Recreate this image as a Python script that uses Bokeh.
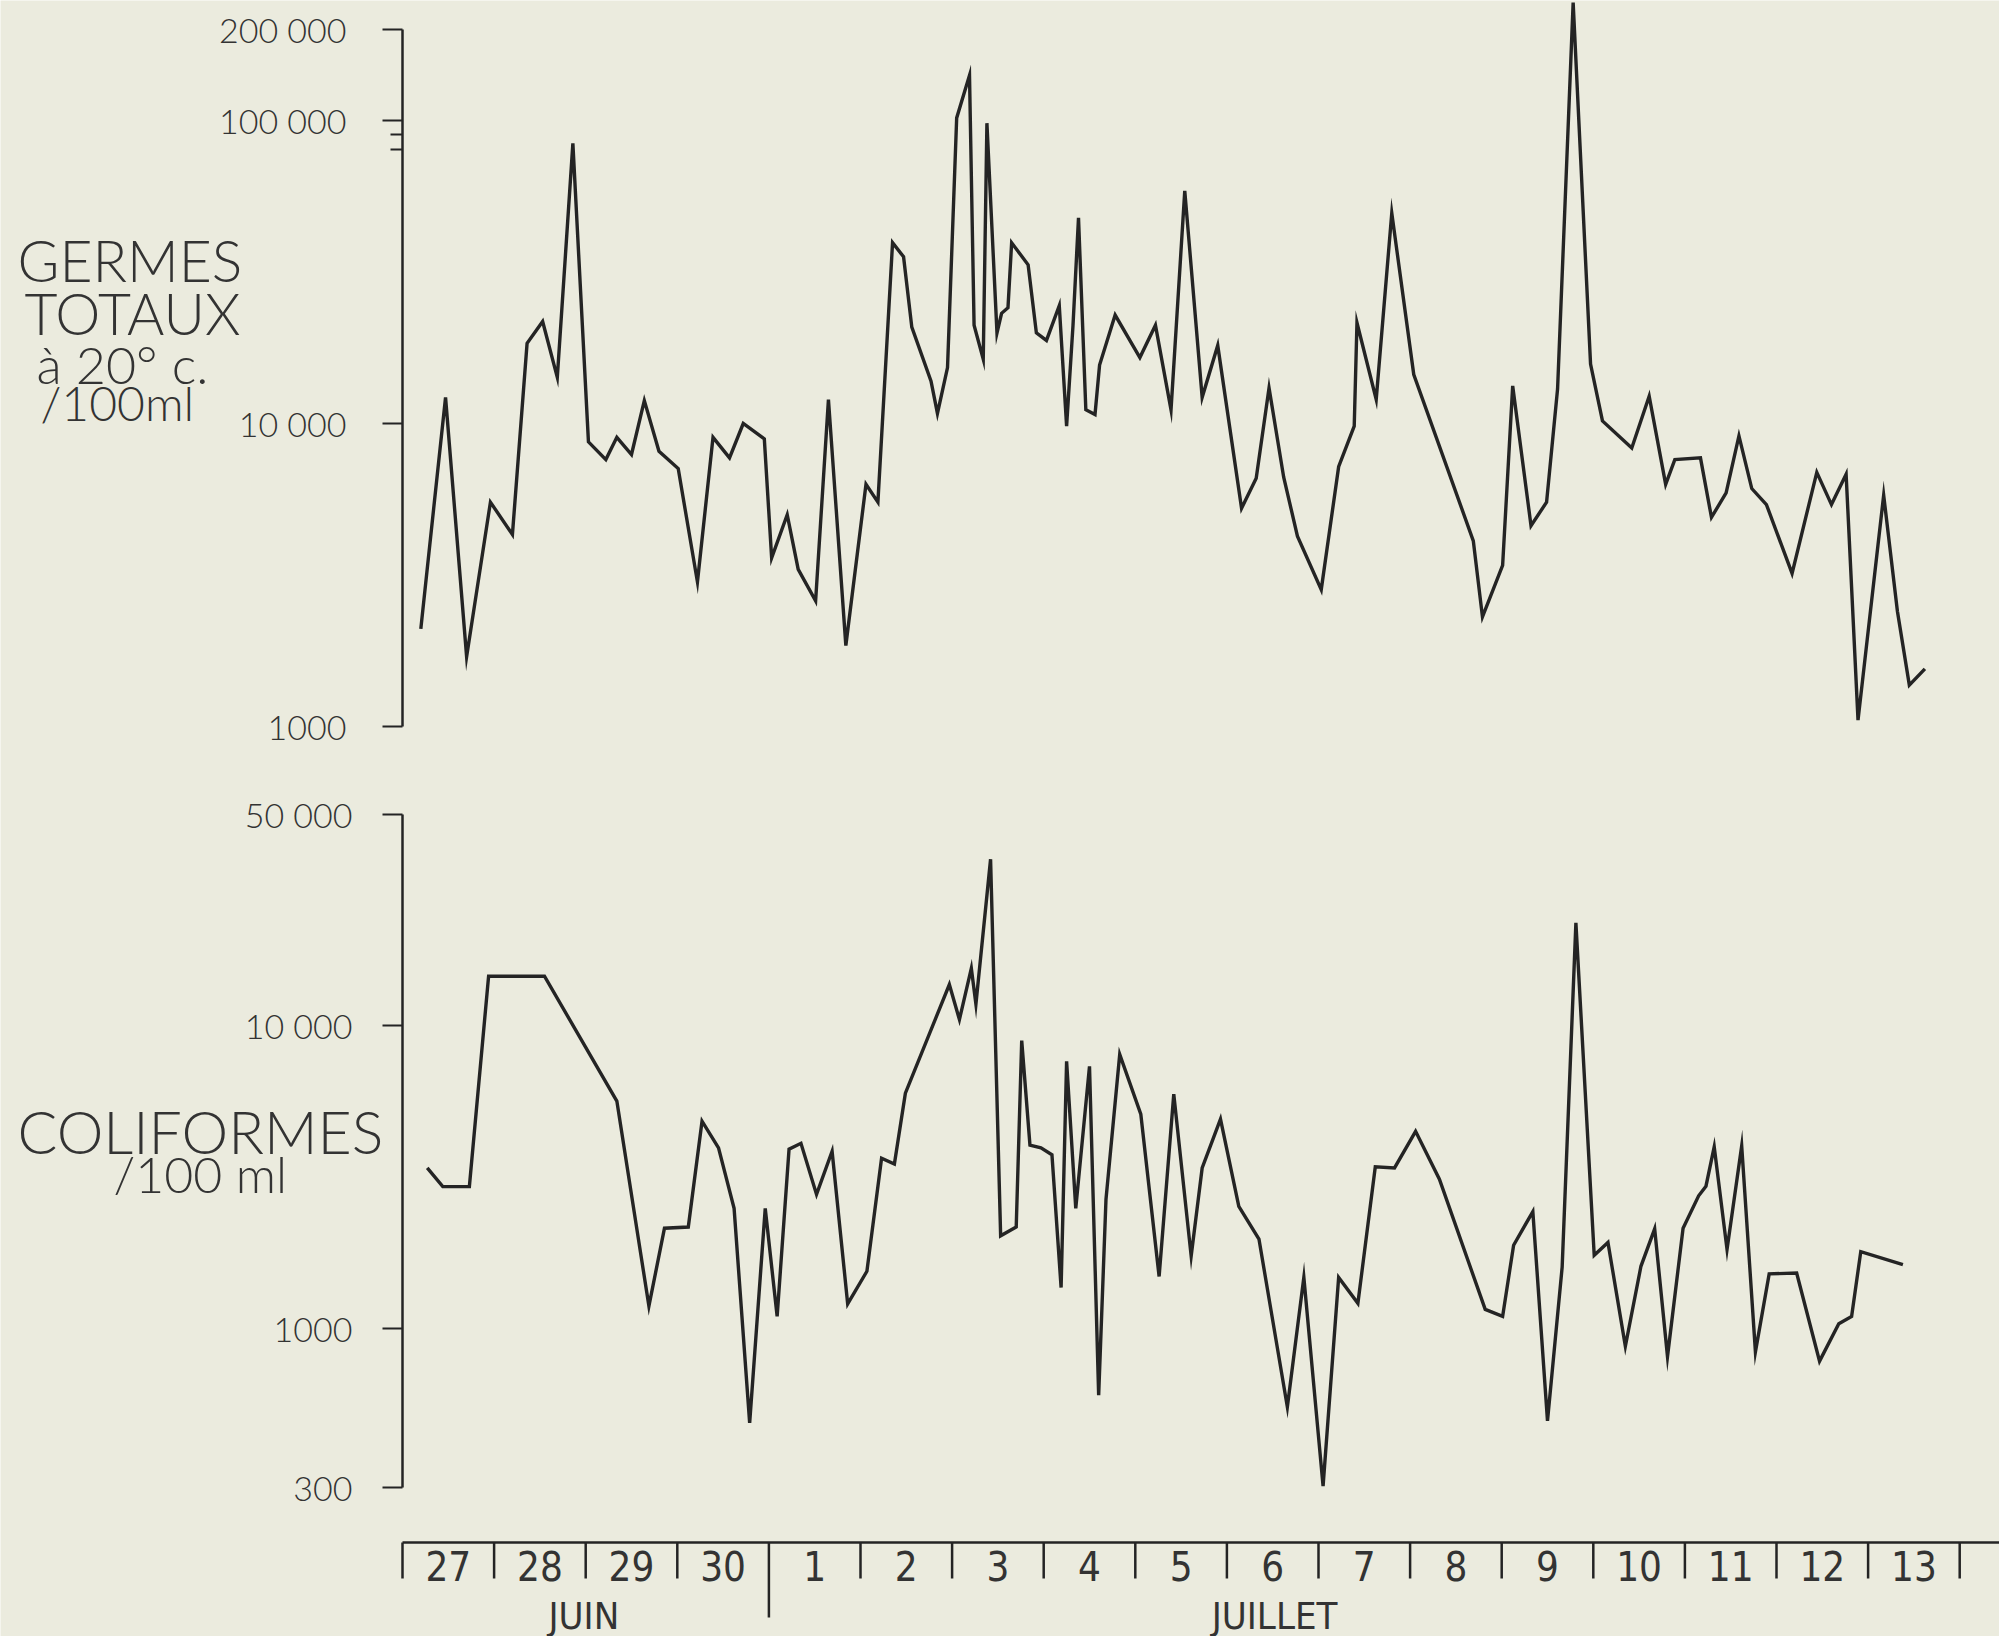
from bokeh.plotting import figure
from bokeh.models import Range1d, FixedTicker, Label, LogAxis, LogScale, LinearScale
from bokeh.embed import file_html
from bokeh.resources import INLINE
from bokeh.core.properties import value

# ---------------- data ----------------
# time: days counted from 27 June, 0 h ; values per 100 ml
germes_t = [0.20, 0.47, 0.70, 0.96, 1.20, 1.36, 1.53, 1.69, 1.86, 2.03, 2.22, 2.34, 2.50, 2.64,
            2.80, 3.01, 3.22, 3.39, 3.57, 3.72, 3.95, 4.03, 4.20, 4.32, 4.51, 4.65, 4.84, 5.06,
            5.19, 5.35, 5.47, 5.56, 5.77, 5.84, 5.95, 6.05, 6.19, 6.24, 6.34, 6.38, 6.49, 6.54,
            6.61, 6.65, 6.83, 6.92, 7.03, 7.17, 7.25, 7.32, 7.38, 7.46, 7.56, 7.61, 7.78, 8.05,
            8.22, 8.39, 8.54, 8.73, 8.90, 9.16, 9.32, 9.46, 9.62, 9.77, 10.03, 10.22, 10.39, 10.42,
            10.63, 10.80, 11.04, 11.69, 11.79, 12.01, 12.12, 12.32, 12.49, 12.61, 12.78, 12.97,
            13.10, 13.42, 13.61, 13.79, 13.89, 14.17, 14.29, 14.45, 14.59, 14.73, 14.89, 15.17,
            15.44, 15.60, 15.76, 15.89, 16.17, 16.32, 16.45, 16.62]
germes_v = [2100, 12200, 1700, 5500, 4300, 18400, 21700, 14200, 84000, 8700, 7600, 9000, 7900, 11900,
            8100, 7100, 3000, 9000, 7700, 10000, 8900, 3600, 5000, 3300, 2600, 12000, 1850, 6300,
            5500, 39500, 35500, 20800, 13800, 10800, 15300, 102000, 141000, 21100, 16300, 98000, 19900, 23100,
            24100, 39500, 33400, 19900, 18800, 24500, 9800, 21100, 47700, 11100, 10700, 15600, 22800, 16500,
            21100, 11100, 58600, 12200, 18100, 5250, 6600, 13100, 6650, 4250, 2830, 7200, 9800, 21500,
            12000, 49500, 14500, 4100, 2300, 3400, 13300, 4600, 5500, 13000, 245000, 15700,
            10200, 8300, 12300, 6300, 7600, 7700, 4900, 5900, 9100, 6100, 5400, 3200,
            6900, 5400, 6800, 1050, 5800, 2400, 1370, 1550]

coli_t = [0.27, 0.44, 0.73, 0.94, 1.55, 2.34, 2.69, 2.86, 3.12, 3.27, 3.45, 3.62, 3.79, 3.96,
          4.09, 4.22, 4.35, 4.52, 4.69, 4.86, 5.07, 5.23, 5.37, 5.49, 5.97, 6.08, 6.21, 6.26,
          6.42, 6.53, 6.70, 6.76, 6.85, 6.97, 7.09, 7.19, 7.25, 7.35, 7.50, 7.60, 7.68, 7.83,
          8.06, 8.26, 8.42, 8.61, 8.73, 8.93, 9.13, 9.35, 9.66, 9.84, 10.05, 10.22, 10.43, 10.62,
          10.83, 11.06, 11.32, 11.82, 12.01, 12.13, 12.34, 12.50, 12.66, 12.81, 13.01, 13.16,
          13.35, 13.52, 13.67, 13.81, 13.98, 14.15, 14.23, 14.32, 14.46, 14.62, 14.77, 14.92,
          15.22, 15.47, 15.68, 15.82, 15.92, 16.38]
coli_v = [3400, 2950, 2950, 14600, 14600, 5650, 1190, 2150, 2170, 4850, 3960, 2500, 490, 2500,
          1100, 3920, 4100, 2780, 3860, 1210, 1550, 3660, 3500, 6000, 13700, 10500, 15500, 11800,
          35500, 2030, 2170, 8950, 4040, 3960, 3760, 1370, 7640, 2500, 7360, 604, 2680, 8060,
          5120, 1490, 5960, 1740, 3400, 4930, 2540, 1980, 553, 1480, 303, 1480, 1215, 3430,
          3400, 4490, 3120, 1160, 1100, 1890, 2440, 497, 1600, 21900, 1750, 1930,
          877, 1610, 2140, 811, 2150, 2750, 2960, 3990, 1830, 4020, 840, 1520,
          1530, 783, 1040, 1100, 1800, 1630]

day_labels = ["27", "28", "29", "30", "1", "2", "3", "4", "5", "6", "7", "8", "9",
              "10", "11", "12", "13"]
month_labels = ["JUIN", "JUILLET"]

germes_ticks = [1000, 10000, 100000, 200000]
germes_tick_labels = ["1000", "10 000", "100 000", "200 000"]
germes_minor_ticks = [80000, 90000]
coli_ticks = [300, 1000, 10000, 50000]
coli_tick_labels = ["300", "1000", "10 000", "50 000"]

# ---------------- style / layout ----------------
PAPER = "#EBEBDE"
INK = "#242424"
TXT = "#333333"
FONT = "Lato Light, Lato, sans-serif"
NARROW = "Liberation Sans Narrow, DejaVu Sans Condensed, Roboto Condensed, sans-serif"
W, H = 1999, 1636
PX_PER_DAY = 91.6
AXIS_PX = 402
X_START = -AXIS_PX / PX_PER_DAY
X_END = (W - AXIS_PX) / PX_PER_DAY

# one frame covering the whole page; each panel has its own log range
p = figure(width=W, height=H, y_axis_type="log", output_backend="svg", toolbar_location=None,
           x_range=Range1d(X_START, X_END), y_range=Range1d(0.9924, 248900),
           x_axis_location=None, y_axis_location=None,
           min_border_left=0, min_border_right=0, min_border_top=0, min_border_bottom=0)
p.extra_y_ranges = {"coli": Range1d(96.6, 2.424e7), "strip": Range1d(H, 0)}
p.extra_y_scales = {"coli": LogScale(), "strip": LinearScale()}
p.background_fill_color = PAPER
p.border_fill_color = PAPER
p.outline_line_color = None
p.grid.visible = False


def make_axis(range_name, ticks, labels, minor=None, standoff=36):
    ax = LogAxis(y_range_name=range_name, fixed_location=0)
    ax.ticker = FixedTicker(ticks=ticks, minor_ticks=minor or [])
    ax.major_label_overrides = {t: l for t, l in zip(ticks, labels)}
    ax.bounds = (min(ticks), max(ticks))
    ax.axis_line_width = 2.5
    ax.axis_line_color = INK
    ax.major_tick_out = 20
    ax.major_tick_in = 0
    ax.major_tick_line_width = 2.2
    ax.major_tick_line_color = INK
    ax.minor_tick_out = 12 if minor else 0
    ax.minor_tick_in = 0
    ax.minor_tick_line_width = 2
    ax.minor_tick_line_color = INK
    ax.major_label_text_font = FONT
    ax.major_label_text_font_size = "34px"
    ax.major_label_text_color = TXT
    ax.major_label_standoff = standoff
    p.add_layout(ax, "left")


def add_label(text, x, page_y, size):
    p.add_layout(Label(x=x, y=H - page_y, x_units="screen", y_units="screen", text=text,
                       text_font=FONT, text_font_size=size, text_color=TXT,
                       text_align="left", text_baseline="middle"))


# ---- top panel : germes totaux ----
make_axis("default", germes_ticks, germes_tick_labels, germes_minor_ticks)
p.line(germes_t, germes_v, line_color=INK, line_width=3.4, line_join="miter")
add_label("GERMES", 17, 259, "57px")
add_label("TOTAUX", 24, 312, "57px")
add_label("à 20° c.", 36, 363, "52px")
add_label("/100ml", 40, 402, "48px")

# ---- bottom panel : coliformes ----
make_axis("coli", coli_ticks, coli_tick_labels, standoff=30)
p.line(coli_t, coli_v, line_color=INK, line_width=3.4, line_join="miter", y_range_name="coli")
add_label("COLIFORMES", 17, 1131, "59px")
add_label("/100 ml", 113, 1173, "50px")

# ---- date strip ----
n = len(day_labels)
bounds = list(range(n + 1))
month_start = day_labels.index("1")
line_top, sep_bottom, long_bottom = 1542, 1578, 1617
p.segment(x0=[0], y0=[line_top], x1=[X_END], y1=[line_top], line_color=INK, line_width=2.5,
          y_range_name="strip")
p.segment(x0=bounds, x1=bounds, y0=[line_top] * (n + 1),
          y1=[long_bottom if b == month_start else sep_bottom for b in bounds],
          line_color=INK, line_width=2.5, y_range_name="strip")
p.text(x=[i + 0.5 for i in range(n)], y=[1565] * n, text=day_labels,
       text_font=value(NARROW), text_font_size="40px", text_color=TXT,
       text_align="center", text_baseline="middle", y_range_name="strip")
month_x = [1.98, 9.52]
p.text(x=month_x, y=[1615] * 2, text=month_labels,
       text_font=value(NARROW), text_font_size="38px", text_color=TXT,
       text_align="center", text_baseline="middle", y_range_name="strip")

open("out.html", "w").write(file_html(p, INLINE))
